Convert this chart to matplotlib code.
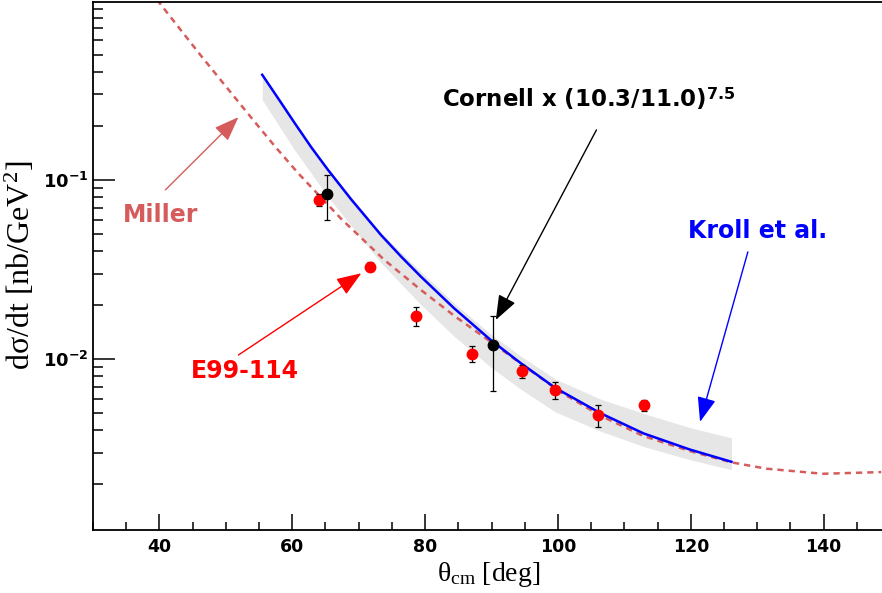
import matplotlib
matplotlib.use("Agg")
import matplotlib.pyplot as plt
from matplotlib.ticker import FixedLocator, MultipleLocator, NullFormatter

plt.rcParams['mathtext.fontset'] = 'custom'
plt.rcParams['mathtext.rm'] = 'Liberation Serif'
plt.rcParams['mathtext.it'] = 'Liberation Serif:italic'
plt.rcParams['mathtext.bf'] = 'DejaVu Sans:bold'

# E99-114 data (red points)
e99_theta = [64.0, 71.7, 78.6, 87.0, 94.6, 99.6, 106.1, 113.0]
e99_dsdt = [0.0773, 0.0328, 0.0173, 0.0107, 0.00857, 0.00671, 0.00486, 0.00553]
e99_err = [0.006, 0.002, 0.0021, 0.0011, 0.0007, 0.0007, 0.0007, 0.0004]

# Cornell data scaled (black points)
cornell_theta = [65.2, 90.2]
cornell_dsdt = [0.0832, 0.0120]
cornell_err = [0.0237, 0.0054]

# Kroll et al. curve and its band
kroll_theta = [55.48, 57.92, 60.37, 62.87, 65.38, 68.87, 73.37, 76.37, 79.37, 84.37,
               89.87, 94.37, 99.62, 106.37, 112.87, 119.87, 126.13]
kroll_dsdt = [0.386, 0.2835, 0.2074, 0.1519, 0.1137, 0.0778, 0.0492, 0.03737, 0.02883, 0.01919,
              0.01277, 0.0095, 0.00689, 0.00499, 0.003845, 0.003122, 0.002668]
band_theta = [55.48, 60.37, 65.38, 73.37, 79.37, 84.37, 89.87, 94.37, 99.62, 106.37,
              112.87, 119.87, 126.13]
band_hi = [0.386, 0.2074, 0.1152, 0.05057, 0.03074, 0.02047, 0.01379, 0.01039, 0.00773,
           0.00598, 0.00497, 0.00414, 0.00363]
band_lo = [0.2798, 0.1465, 0.0804, 0.03439, 0.02011, 0.01339, 0.00902, 0.0068, 0.00506,
           0.00396, 0.00325, 0.00274, 0.00241]

# Miller curve (dashed)
miller_theta = [39.63, 46.38, 53.88, 57.33, 60.88, 67.38, 73.87, 79.37, 84.63, 90.13,
                95.13, 100.38, 106.38, 112.87, 119.88, 126.13, 131.38, 139.87, 148.68]
miller_dsdt = [1.013, 0.4866, 0.2212, 0.1548, 0.109, 0.06053, 0.03572, 0.02429, 0.01716, 0.01229,
               0.00902, 0.00654, 0.00483, 0.003714, 0.003062, 0.002648, 0.002442, 0.002287, 0.002337]

miller_col = '#d65c5c'

fig = plt.figure(figsize=(8.82, 5.93), dpi=100)
ax = fig.add_axes([93 / 882, 63 / 593, 797 / 882, 528.5 / 593])

ax.fill_between(band_theta, band_lo, band_hi, color='#e6e6e6', lw=0, zorder=1)
ax.plot(miller_theta, miller_dsdt, color=miller_col, lw=1.8, ls=(0, (2.5, 2)), zorder=2)
ax.plot(kroll_theta, kroll_dsdt, color='#0000ff', lw=1.8, zorder=3)

ax.errorbar(e99_theta, e99_dsdt, yerr=e99_err, fmt='o', color='#ff0000', ms=7.5,
            ecolor='black', elinewidth=0.9, capsize=2.5, capthick=0.9, zorder=5)
ax.errorbar(cornell_theta, cornell_dsdt, yerr=cornell_err, fmt='o', color='black', ms=7.5,
            ecolor='black', elinewidth=0.9, capsize=2.5, capthick=0.9, zorder=6)

ax.set_yscale('log')
ax.set_xlim(30, 150)
ax.set_ylim(0.00111, 0.99)

ax.xaxis.set_major_locator(MultipleLocator(20))
ax.xaxis.set_minor_locator(MultipleLocator(5))
ax.yaxis.set_major_locator(FixedLocator([1e-3, 1e-2, 1e-1, 1.0]))
ax.yaxis.set_minor_locator(FixedLocator([m * 10.0 ** e for e in (-3, -2, -1) for m in range(2, 10)]))
ax.yaxis.set_minor_formatter(NullFormatter())
ax.set_yticklabels([r'$\mathbf{10^{-3}}$', r'$\mathbf{10^{-2}}$', r'$\mathbf{10^{-1}}$', r'$\mathbf{1}$'])

ax.tick_params(axis='x', which='major', direction='in', length=11.5, width=1.1, pad=6)
ax.tick_params(axis='x', which='minor', direction='in', length=5.8, width=1.1)
ax.tick_params(axis='y', which='major', direction='in', length=16, width=1.1, pad=3)
ax.tick_params(axis='y', which='minor', direction='in', length=7.5, width=1.1)
for lab in ax.get_xticklabels():
    lab.set_fontweight('bold')
    lab.set_fontsize(12.5)
for lab in ax.get_yticklabels():
    lab.set_fontsize(13)
for sp in ax.spines.values():
    sp.set_linewidth(1.3)

ax.set_xlabel(r'θ$_{\mathrm{cm}}$ [deg]', family='Liberation Serif', fontsize=20)
ax.set_ylabel(r'dσ/dt [nb/GeV$^{\mathrm{2}}$]', family='Liberation Serif', fontsize=23)
ax.xaxis.set_label_coords(0.497, -0.056)
ax.yaxis.set_label_coords(-0.07, 0.5)

txt = dict(fontweight='bold', family='DejaVu Sans')
head = dict(arrowstyle='-|>,head_length=0.85,head_width=0.32', mutation_scale=18, lw=1.0,
            shrinkA=0, shrinkB=0)

ax.text(40.2, 0.0637, 'Miller', color=miller_col, ha='center', va='center', fontsize=17, **txt)
ax.annotate('', xy=(51.9, 0.224), xytext=(40.9, 0.0879),
            arrowprops=dict(color=miller_col, **head))

ax.text(52.8, 0.00857, 'E99-114', color='#ff0000', ha='center', va='center', fontsize=17, **txt)
ax.annotate('', xy=(70.4, 0.0301), xytext=(51.9, 0.01053),
            arrowprops=dict(color='#ff0000', **head))

ax.text(82.6, 0.2567, r'Cornell x (10.3/11.0)$^{\mathbf{7.5}}$', color='black',
        ha='left', va='baseline', fontsize=16.5, **txt)
ax.annotate('', xy=(90.65, 0.01652), xytext=(105.8, 0.190),
            arrowprops=dict(color='black', **head))

ax.text(130.0, 0.0519, 'Kroll et al.', color='#0000ff', ha='center', va='center', fontsize=17, **txt)
ax.annotate('', xy=(121.4, 0.00446), xytext=(128.6, 0.0396),
            arrowprops=dict(color='#0000ff', **head))

fig.savefig('out.png', dpi=100)
